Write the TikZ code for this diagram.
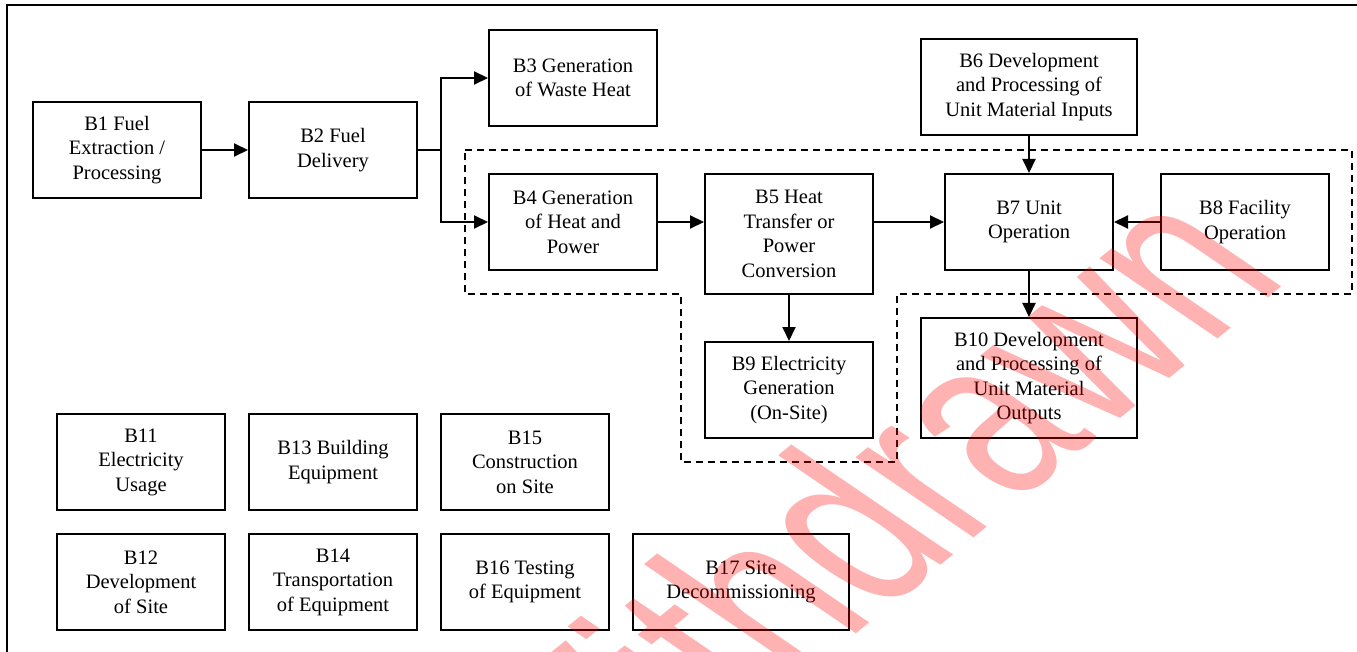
\documentclass[tikz,border=0pt]{standalone}
\usepackage{fontspec}
\setmainfont{Liberation Serif}
\newfontfamily\wmfont{Liberation Sans}
\usetikzlibrary{arrows.meta,calc}
\begin{document}
\begin{tikzpicture}[x=1pt,y=-1pt,
  blk/.style={draw=black, line width=2pt, fill=white, align=center, inner sep=0pt,
    minimum width=168pt, minimum height=96pt,
    font=\fontsize{20.5}{24.5}\selectfont},
  wide/.style={minimum width=216pt},
  tall/.style={minimum height=120pt},
  conn/.style={line width=2pt, -{Triangle[length=14pt,width=13pt]}},
  plain/.style={line width=2pt},
  group/.style={line width=2pt, dash pattern=on 7pt off 5pt},
  frame/.style={line width=2.5pt}
]
\useasboundingbox (0,0) rectangle (1357,652);
\fill[white] (0,0) rectangle (1357,652);

% frame
\draw[frame] (7,652) -- (7,5) -- (1357,5);

% dashed group boundary
\draw[group] (465,150) -- (1352,150) -- (1352,294) -- (897,294) -- (897,462)
  -- (681,462) -- (681,294) -- (465,294) -- cycle;

% blocks
\node[blk] (b1) at (117,150) {B1 Fuel\\Extraction /\\Processing};
\node[blk] (b2) at (333,150) {B2 Fuel\\Delivery};
\node[blk] (b3) at (573,78) {B3 Generation\\of Waste Heat};
\node[blk] (b4) at (573,222) {B4 Generation\\of Heat and\\Power};
\node[blk,tall] (b5) at (789,234) {B5 Heat\\Transfer or\\Power\\Conversion};
\node[blk,wide] (b6) at (1029,87) {B6 Development\\and Processing of\\Unit Material Inputs};
\node[blk] (b7) at (1029,222) {B7 Unit\\Operation};
\node[blk] (b8) at (1245,222) {B8 Facility\\Operation};
\node[blk] (b9) at (789,390) {B9 Electricity\\Generation\\(On-Site)};
\node[blk,wide,tall] (b10) at (1029,378) {B10 Development\\and Processing of\\Unit Material\\Outputs};

\node[blk] (b11) at (141,462) {B11\\Electricity\\Usage};
\node[blk] (b13) at (333,462) {B13 Building\\Equipment};
\node[blk] (b15) at (525,462) {B15\\Construction\\on Site};
\node[blk] (b12) at (141,582) {B12\\Development\\of Site};
\node[blk] (b14) at (333,582) {B14\\Transportation\\of Equipment};
\node[blk] (b16) at (525,582) {B16 Testing\\of Equipment};
\node[blk,wide] (b17) at (741,582) {B17 Site\\Decommissioning};

% connectors
\coordinate (split) at (441,150);
\draw[conn] (b1.east) -- (b2.west);
\draw[plain] (b2.east) -- (split);
\draw[conn] (split) |- (b3.west);
\draw[conn] (split) |- (b4.west);
\draw[conn] (b4.east) -- (b4.east -| b5.west);
\draw[conn] (b5.east |- b7.west) -- (b7.west);
\draw[conn] (b8.west) -- (b7.east);
\draw[conn] (b6.south) -- (b7.north);
\draw[conn] (b7.south) -- (b10.north);
\draw[conn] (b5.south) -- (b9.north);

% watermark
\begin{scope}
\clip (0,0) rectangle (1357,652);
\begin{scope}[shift={(577,862)}]
\pgftransformcm{0.756}{0.617}{-1.115}{0.761}{\pgfpointorigin}
\node[transform shape, anchor=base west, inner sep=0pt, text=red, text opacity=0.3,
  font=\wmfont\fontsize{200}{200}\selectfont] (wm) at (0,0) {Withdrawn};
\end{scope}
\end{scope}
\end{tikzpicture}
\end{document}
